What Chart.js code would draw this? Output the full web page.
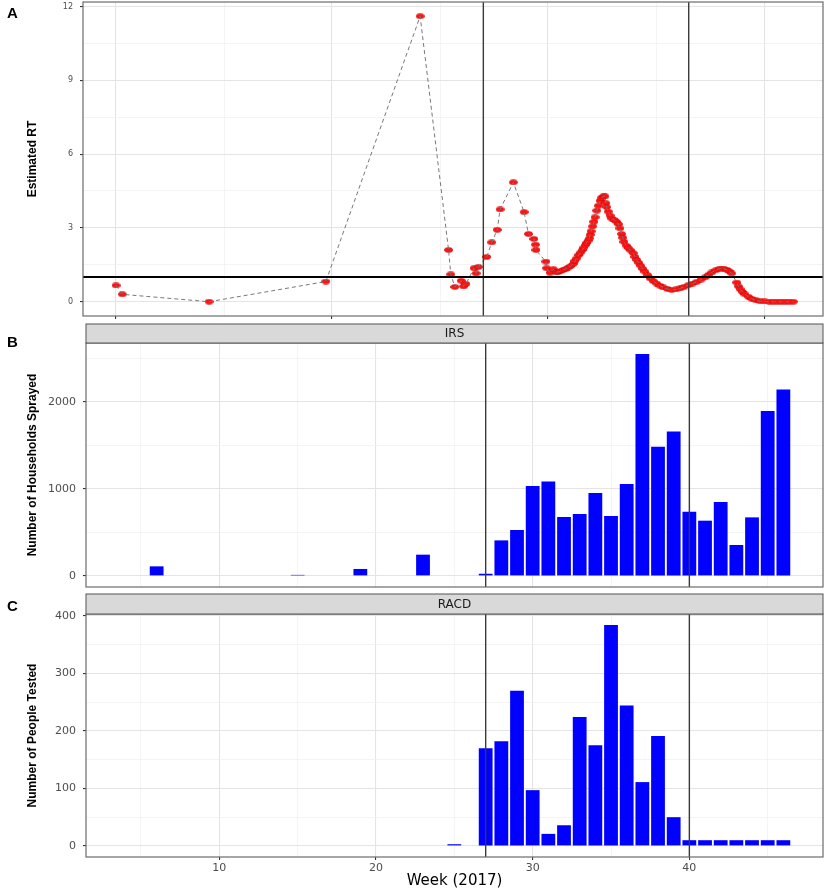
<!DOCTYPE html>
<html>
<head>
<meta charset="utf-8">
<script src="https://cdn.jsdelivr.net/npm/chart.js@4.4.1/dist/chart.umd.min.js"></script>
<style>
  html, body { margin: 0; padding: 0; background: #fff; }
  #wrap { position: relative; width: 829px; height: 890px; overflow: hidden; }
  #wrap canvas { position: absolute; left: 0; }
  .tag { position: absolute; left: 7px; font: bold 15px "Liberation Sans", Arial, sans-serif; color: #000; line-height: 17px; }
</style>
</head>
<body>
<div id="wrap">
  <canvas id="chartRT" width="829" height="322" style="top:0px"></canvas>
  <canvas id="chartIRS" width="829" height="270" style="top:322px"></canvas>
  <canvas id="chartRACD" width="829" height="298" style="top:592px"></canvas>
  <div class="tag" style="top:4px">A</div>
  <div class="tag" style="top:333px">B</div>
  <div class="tag" style="top:597px">C</div>
</div>
<script>
// Panel A - estimated RT
const rtWeek = [3.75, 4.15, 9.64, 17.03, 23.0, 24.8, 24.94, 25.2, 25.6, 25.75, 25.9,
  26.41, 26.54, 26.68, 27.22, 27.53, 27.88, 28.06, 28.9, 29.58, 29.86, 30.2, 30.3, 30.33,
  30.96, 31.01, 31.22, 31.43, 31.6, 31.75, 31.9, 32.06, 32.22, 32.38, 32.54, 32.7, 32.8,
  32.91, 33.05, 33.16, 33.27, 33.37, 33.46, 33.54, 33.63, 33.71, 33.77, 33.82, 33.92, 34.0,
  34.07, 34.18, 34.28, 34.39, 34.49, 34.6, 34.7, 34.76, 34.81, 34.91, 35.02, 35.13, 35.3,
  35.44, 35.55, 35.65, 35.75, 35.82, 35.9, 36.04, 36.18, 36.34, 36.49, 36.6, 36.71, 36.84,
  36.96, 37.1, 37.23, 37.4, 37.55, 37.75, 37.97, 38.18, 38.39, 38.65, 38.92, 39.2, 39.45,
  39.7, 39.97, 40.24, 40.51, 40.78, 41.04, 41.25, 41.46, 41.72, 41.98, 42.2, 42.41, 42.56,
  42.72, 43.04, 43.15, 43.25, 43.4, 43.56, 43.78, 43.99, 44.25, 44.51, 44.8, 45.1, 45.35,
  45.6, 45.85, 46.1, 46.35, 46.62];
const rtValue = [0.66, 0.30, 0.0, 0.82, 11.6, 2.1, 1.11, 0.6, 0.85, 0.62, 0.72,
  1.36, 1.15, 1.41, 1.82, 2.41, 2.92, 3.75, 4.85, 3.64, 2.75, 2.55, 2.32, 2.1,
  1.63, 1.36, 1.18, 1.32, 1.2, 1.21, 1.25, 1.29, 1.33, 1.39, 1.45, 1.54, 1.66,
  1.76, 1.9, 2.0, 2.1, 2.2, 2.3, 2.39, 2.48, 2.57, 2.72, 2.86, 3.06, 3.25,
  3.43, 3.7, 3.9, 4.1, 4.23, 4.28, 4.28, 4.0, 3.84, 3.66, 3.5, 3.38, 3.32,
  3.25, 3.15, 2.98, 2.75, 2.6, 2.43, 2.28, 2.18, 2.08, 1.97, 1.82, 1.70, 1.58,
  1.46, 1.33, 1.22, 1.08, 0.95, 0.84, 0.74, 0.65, 0.58, 0.52, 0.48, 0.5, 0.54,
  0.6, 0.67, 0.74, 0.81, 0.9, 0.99, 1.09, 1.19, 1.28, 1.35, 1.35, 1.30, 1.24,
  1.15, 0.78, 0.62, 0.51, 0.4, 0.30, 0.2, 0.12, 0.06, 0.02, 0.01, 0, 0,
  0, 0, 0, 0, 0];
const rtYMajor = [0, 3, 6, 9, 12];
const rtYMinor = [1.5, 4.5, 7.5, 10.5];
const rtXMajor = [3.75, 17.42, 31.09, 44.77];
const rtXMinor = [10.59, 24.26, 37.93];

// Panel B - IRS
const irsWeek = [6, 15, 19, 23, 27, 28, 29, 30, 31, 32, 33, 34, 35, 36, 37, 38, 39, 40, 41, 42, 43, 44, 45, 46];
const irsHouseholds = [110, 12, 80, 244, 25, 408, 527, 1032, 1085, 676, 711, 952, 688, 1055, 2546, 1483, 1658, 737, 634, 848, 355, 672, 1892, 2140];
const irsYMajor = [0, 1000, 2000];
const irsYMinor = [500, 1500, 2500];

// Panel C - RACD
const racdWeek = [25, 27, 28, 29, 30, 31, 32, 33, 34, 35, 36, 37, 38, 39, 40, 41, 42, 43, 44, 45, 46];
const racdTested = [3, 170, 182, 270, 97, 21, 36, 224, 175, 384, 244, 111, 191, 50, 10, 10, 10, 10, 10, 10, 10];
const racdYMajor = [0, 100, 200, 300, 400];
const racdYMinor = [50, 150, 250, 350];

const weekMajor = [10, 20, 30, 40];
const weekMinor = [5, 15, 25, 35, 45];
const cutWeeks = [27, 40];

const tickFont = { family: '"DejaVu Sans", sans-serif', size: 11 };
const titleFont = { family: '"Liberation Sans", Arial, sans-serif', size: 12, weight: 'bold' };

function ellipseDot() {
  const c = document.createElement('canvas');
  c.width = 9; c.height = 6;
  const g = c.getContext('2d');
  g.beginPath();
  g.ellipse(4.5, 3, 4.1, 2.4, 0, 0, Math.PI * 2);
  g.fillStyle = '#ff1414';
  g.fill();
  g.lineWidth = 0.6;
  g.strokeStyle = 'rgba(190,0,0,0.8)';
  g.stroke();
  return c;
}

function merged(a, b) {
  return a.concat(b).sort((p, q) => p - q).map(v => ({ value: v }));
}

// frame, reference lines and facet strip
const panelFrame = {
  id: 'panelFrame',
  afterDatasetsDraw(chart, args, opts) {
    const { ctx, chartArea: a, scales } = chart;
    ctx.save();
    ctx.strokeStyle = '#3a3a3a';
    ctx.lineWidth = 1.4;
    (opts.vlines || []).forEach(v => {
      const px = scales.x.getPixelForValue(v);
      ctx.beginPath(); ctx.moveTo(px, a.top); ctx.lineTo(px, a.bottom); ctx.stroke();
    });
    if (opts.hline !== undefined) {
      const py = scales.y.getPixelForValue(opts.hline);
      ctx.strokeStyle = '#000';
      ctx.lineWidth = 2;
      ctx.beginPath(); ctx.moveTo(a.left, py); ctx.lineTo(a.right, py); ctx.stroke();
    }
    ctx.strokeStyle = '#6b6b6b';
    ctx.lineWidth = 1.2;
    ctx.strokeRect(a.left, a.top, a.right - a.left, a.bottom - a.top);
    if (opts.strip) {
      const h = opts.stripHeight;
      ctx.fillStyle = '#d9d9d9';
      ctx.fillRect(a.left, a.top - h, a.right - a.left, h);
      ctx.strokeStyle = '#555';
      ctx.lineWidth = 1;
      ctx.strokeRect(a.left, a.top - h, a.right - a.left, h);
      ctx.fillStyle = '#1a1a1a';
      ctx.font = '12px "DejaVu Sans", sans-serif';
      ctx.textAlign = 'center';
      ctx.textBaseline = 'middle';
      ctx.fillText(opts.strip, (a.left + a.right) / 2, a.top - h / 2 + 0.5);
    }
    ctx.restore();
  }
};

function yAxis(min, max, major, minor, width, title, fontSize) {
  return {
    type: 'linear', min: min, max: max, bounds: 'data',
    afterBuildTicks: s => { s.ticks = merged(major, minor); },
    afterFit: s => { s.width = width; s.paddingTop = 0; s.paddingBottom = 0; },
    ticks: {
      callback: v => major.includes(v) ? String(v) : '',
      padding: 7, color: '#4d4d4d',
      font: { family: tickFont.family, size: fontSize }
    },
    grid: {
      color: c => major.includes(c.tick.value) ? '#e4e4e4' : '#f1f1f1',
      lineWidth: c => major.includes(c.tick.value) ? 1.1 : 0.8,
      tickColor: c => major.includes(c.tick.value) ? '#333' : 'rgba(0,0,0,0)',
      tickLength: 3
    },
    border: { display: false },
    title: { display: true, text: title, font: titleFont, color: '#000', padding: { top: 25, bottom: 0 } }
  };
}

function xAxis(min, max, major, minor, height, showLabels, showTicks) {
  return {
    type: 'linear', min: min, max: max, bounds: 'data', offset: false,
    afterBuildTicks: s => { s.ticks = merged(major, minor); },
    afterFit: s => { s.height = height; s.paddingLeft = 0; s.paddingRight = 0; },
    ticks: {
      display: showLabels,
      callback: v => major.includes(v) ? String(v) : '',
      padding: 2, color: '#4d4d4d', font: tickFont,
      maxRotation: 0, minRotation: 0, autoSkip: false
    },
    grid: {
      offset: false,
      color: c => major.includes(c.tick.value) ? '#e4e4e4' : '#f1f1f1',
      lineWidth: c => major.includes(c.tick.value) ? 1.1 : 0.8,
      tickColor: c => (showTicks && major.includes(c.tick.value)) ? '#333' : 'rgba(0,0,0,0)',
      tickLength: 3
    },
    border: { display: false }
  };
}

const common = {
  responsive: false,
  animation: false,
  events: [],
  layout: { autoPadding: false },
  plugins: { legend: { display: false }, tooltip: { enabled: false } }
};

const rtPoints = rtWeek.map((w, i) => ({ x: w, y: rtValue[i] }));

new Chart(document.getElementById('chartRT'), {
  type: 'line',
  data: {
    datasets: [
      {
        data: rtPoints,
        borderColor: '#777',
        borderWidth: 1,
        borderDash: [4, 3],
        pointRadius: 0,
        tension: 0,
        fill: false
      },
      {
        data: rtPoints,
        showLine: false,
        pointStyle: ellipseDot(),
        pointRadius: 3
      }
    ]
  },
  options: Object.assign({}, common, {
    layout: { autoPadding: false, padding: { left: 0, right: 6, top: 2, bottom: 0 } },
    scales: {
      x: xAxis(1.66, 48.5, rtXMajor, rtXMinor, 6, false, true),
      y: yAxis(-0.58, 12.18, rtYMajor, rtYMinor, 83, 'Estimated RT', 8)
    },
    plugins: Object.assign({}, common.plugins, {
      panelFrame: { vlines: cutWeeks, hline: 1 }
    })
  }),
  plugins: [panelFrame]
});

new Chart(document.getElementById('chartIRS'), {
  type: 'bar',
  data: {
    datasets: [{
      data: irsWeek.map((w, i) => ({ x: w, y: irsHouseholds[i] })),
      backgroundColor: '#0000ff',
      barPercentage: 0.88,
      categoryPercentage: 1
    }]
  },
  options: Object.assign({}, common, {
    layout: { autoPadding: false, padding: { left: 0, right: 6, top: 21, bottom: 0 } },
    scales: {
      x: xAxis(1.49, 48.53, weekMajor, weekMinor, 5, false, false),
      y: yAxis(-127, 2673, irsYMajor, irsYMinor, 86, 'Number of Households Sprayed', 11)
    },
    plugins: Object.assign({}, common.plugins, {
      panelFrame: { vlines: cutWeeks, strip: 'IRS', stripHeight: 19 }
    })
  }),
  plugins: [panelFrame]
});

const racdX = xAxis(1.49, 48.53, weekMajor, weekMinor, 33, true, true);
racdX.title = {
  display: true, text: 'Week (2017)', color: '#000',
  font: { family: '"DejaVu Sans", sans-serif', size: 15 },
  padding: { top: 0, bottom: 0 }
};

new Chart(document.getElementById('chartRACD'), {
  type: 'bar',
  data: {
    datasets: [{
      data: racdWeek.map((w, i) => ({ x: w, y: racdTested[i] })),
      backgroundColor: '#0000ff',
      barPercentage: 0.88,
      categoryPercentage: 1
    }]
  },
  options: Object.assign({}, common, {
    layout: { autoPadding: false, padding: { left: 0, right: 6, top: 22, bottom: 0 } },
    scales: {
      x: racdX,
      y: yAxis(-19.2, 403.2, racdYMajor, racdYMinor, 86, 'Number of People Tested', 11)
    },
    plugins: Object.assign({}, common.plugins, {
      panelFrame: { vlines: cutWeeks, strip: 'RACD', stripHeight: 20 }
    })
  }),
  plugins: [panelFrame]
});
</script>
</body>
</html>
